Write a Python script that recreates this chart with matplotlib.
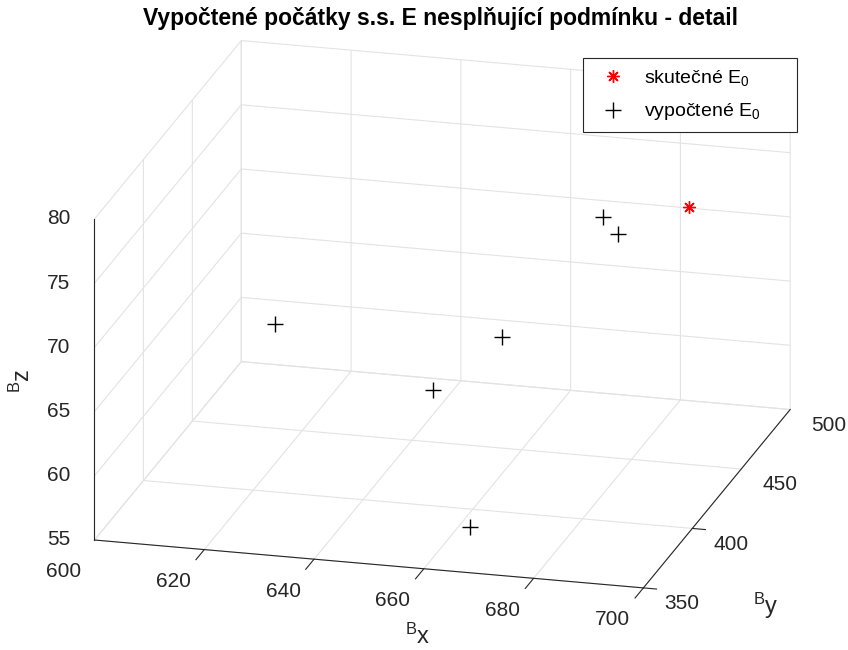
import matplotlib
matplotlib.use('Agg')
import matplotlib.pyplot as plt
from mpl_toolkits.mplot3d import proj3d
import numpy as np

plt.rcParams['font.family'] = ['Liberation Sans', 'DejaVu Sans']
plt.rcParams['mathtext.fontset'] = 'custom'
plt.rcParams['mathtext.rm'] = 'Liberation Sans'
plt.rcParams['mathtext.it'] = 'Liberation Sans'
plt.rcParams['grid.color'] = '#e3e3e3'
plt.rcParams['grid.linewidth'] = 0.8

# skutecny pocatek
E0_true = [687.0, 470.0, 73.1]

# vypoctene pocatky (x, y, z)
calc_x = [674.0, 676.7, 624.9, 660.8, 653.6, 663.0]
calc_y = [455.0, 455.0, 395.0, 425.0, 395.0, 380.0]
calc_z = [73.2, 72.0, 68.6, 66.1, 64.55, 55.6]

xlim = (600, 700)
ylim = (350, 500)
zlim = (55, 80)
xticks = [600, 620, 640, 660, 680, 700]
yticks = [350, 400, 450, 500]
zticks = [55, 60, 65, 70, 75, 80]

AXC = '#262626'
TICK_FS = 15

fig = plt.figure(figsize=(8.48, 6.5), dpi=100)
ax = fig.add_axes([0.012, 0.039, 1.0, 0.93], projection='3d', proj_type='ortho')
ax.view_init(elev=19, azim=-75)
ax.set_box_aspect((569, 568, 340), zoom=1.40)

ax.plot([E0_true[0]], [E0_true[1]], [E0_true[2]], linestyle='none',
        marker=(8, 2, 0), markersize=9, markeredgewidth=1.0, color='red',
        label=r'skutečné E$_0$')
ax.plot(calc_x, calc_y, calc_z, linestyle='none', marker='+',
        markersize=11, markeredgewidth=1.0, color='black',
        label=r'vypočtené E$_0$')

x0, y0, z0 = xlim[0], ylim[0], zlim[0]
x1 = xlim[1]

# carky na osach ve stylu MATLABu
for xv in xticks:
    ax.plot([xv, xv], [y0, y0 - 8.5], [z0, z0], color=AXC, lw=0.8)
for yv in yticks:
    ax.plot([x1, x1 + 2.4], [yv, yv], [z0, z0], color=AXC, lw=0.8)
for zv in zticks:
    ax.plot([x0 - 2.4, x0], [y0, y0], [zv, zv], color=AXC, lw=0.8)

ax.set_xlim(*xlim)
ax.set_ylim(*ylim)
ax.set_zlim(*zlim)
ax.set_xticks(xticks)
ax.set_yticks(yticks)
ax.set_zticks(zticks)

for axis in (ax.xaxis, ax.yaxis, ax.zaxis):
    axis.set_pane_color((1, 1, 1, 0))
    axis.pane.set_edgecolor('#e3e3e3')
    axis.line.set_color(AXC)
    axis.line.set_linewidth(0.8)
    axis._axinfo['tick']['inward_factor'] = 0.0
    axis._axinfo['tick']['outward_factor'] = 0.0
    axis.set_tick_params(label1On=False, label2On=False)
    axis.offsetText.set_visible(False)
ax.zaxis.set_ticks_position('lower')

fig.canvas.draw()
M = ax.get_proj()
to_fig = fig.transFigure.inverted()


def label3d(x, y, z, s, **kw):
    # popisek v 3D bode, kresleny jako 2D text
    xs, ys, _ = proj3d.proj_transform(x, y, z, M)
    fx, fy = to_fig.transform(ax.transData.transform((xs, ys)))
    fig.text(fx, fy, s, fontsize=TICK_FS, color=AXC, **kw)


for xv in xticks:
    label3d(xv - 0.8, y0 - 27.2, z0, str(xv), ha='center', va='center')
for yv in yticks:
    label3d(x1 + 3.8, yv, z0 - 1.1, str(yv), ha='left', va='center')
for zv in zticks:
    label3d(x0 - 4.4, y0, zv - 0.16, str(zv), ha='right', va='center')

# popisky os
fig.text(418 / 848, 1 - 636 / 650, r'$^{\mathrm{B}}\mathrm{x}$', fontsize=17,
         color=AXC, ha='center', va='center')
fig.text(766 / 848, 1 - 606 / 650, r'$^{\mathrm{B}}\mathrm{y}$', fontsize=17,
         color=AXC, ha='center', va='center')
fig.text(22 / 848, 1 - 381 / 650, r'$^{\mathrm{B}}\mathrm{z}$', fontsize=17,
         color=AXC, ha='center', va='center', rotation=90)

fig.text(441 / 848, 1 - 18 / 650, 'Vypočtené počátky s.s. E nesplňující podmínku - detail',
         fontsize=16.5, fontweight='bold', ha='center', va='center')

leg = ax.legend(loc='upper left',
                bbox_to_anchor=(583 / 848, 1 - 133 / 650, 214 / 848, 75 / 650),
                bbox_transform=fig.transFigure, mode='expand', fontsize=14,
                fancybox=False, framealpha=1, edgecolor=AXC,
                handletextpad=0.55, borderpad=0.5, labelspacing=0.7,
                handlelength=2.1, borderaxespad=0)
leg.get_frame().set_linewidth(0.8)

fig.savefig('out.png', dpi=100)
